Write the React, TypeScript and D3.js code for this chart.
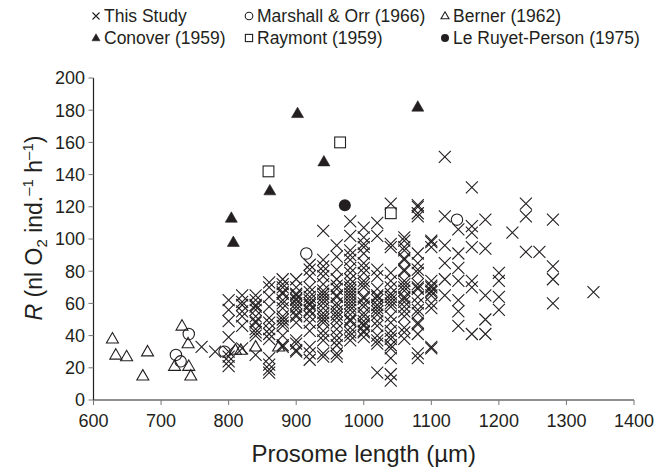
import React from 'react';
import * as d3 from 'd3';

// ---- data ----
// This Study: prosome length columns (µm) with their respiration values
const thisStudyColumns: [number, number[]][] = [
  [760, [33]],
  [780, [30]],
  [800, [62, 56, 49, 39, 30, 27, 24, 21]],
  [820, [65, 61, 59, 55, 52, 46, 32]],
  [840, [65, 62, 59, 58, 56, 52, 49, 48, 44, 42, 40, 28]],
  [860, [73, 70, 64, 58, 51, 48, 44, 41, 38, 26, 22, 19, 17]],
  [880, [75, 72, 70, 67, 66, 62, 60, 57, 52, 50, 48, 46, 40, 34, 33]],
  [900, [75, 70, 66, 65, 63, 62, 60, 58, 56, 53, 52, 48, 37, 35, 31, 30]],
  [920, [84, 81, 77, 70, 67, 64, 62, 60, 59, 56, 55, 52, 48, 43, 33, 29, 25]],
  [940, [105, 87, 83, 80, 77, 72, 68, 66, 64, 62, 60, 57, 54, 52, 50, 48, 43, 40, 37, 29, 27]],
  [960, [96, 89, 81, 75, 71, 69, 65, 64, 60, 58, 55, 53, 51, 48, 44, 40, 37, 34, 29, 27]],
  [980, [111, 102, 93, 90, 87, 82, 79, 75, 72, 70, 68, 66, 64, 62, 60, 58, 56, 53, 50, 49, 45, 42, 40, 37]],
  [1000, [107, 101, 97, 95, 91, 85, 82, 79, 74, 72, 70, 64, 63, 60, 58, 54, 52, 49, 47, 46, 43, 42, 39]],
  [1020, [110, 102, 81, 77, 69, 65, 64, 62, 59, 57, 55, 53, 49, 46, 40, 37, 35, 17]],
  [1040, [122, 97, 95, 79, 74, 70, 66, 64, 62, 60, 58, 52, 48, 43, 40, 38, 34, 32, 26, 16, 12]],
  [1060, [101, 99, 95, 93, 88, 87, 81, 80, 74, 72, 70, 68, 64, 63, 61, 58, 55, 52, 45, 42, 38]],
  [1080, [121, 120, 116, 114, 91, 85, 81, 79, 72, 70, 69, 64, 60, 56, 54, 48, 47, 41, 29, 26]],
  [1100, [99, 98, 95, 74, 71, 70, 68, 67, 65, 60, 57, 33, 32]],
  [1120, [151, 114, 96, 85, 75, 65]],
  [1140, [106, 91, 82, 74, 62, 55, 46]],
  [1160, [132, 108, 104, 95, 74, 70, 41]],
  [1180, [112, 94, 65, 50, 41]],
  [1200, [79, 74, 64, 56]],
  [1220, [104]],
  [1240, [122, 114, 92]],
  [1260, [92]],
  [1280, [112, 83, 75, 60]],
  [1340, [67]],
];

const marshallOrr: [number, number][] = [
  [722, 28], [729, 24], [741, 41], [794, 30], [915, 91], [1138, 112],
];

const berner: [number, number][] = [
  [628, 38], [633, 28], [649, 27], [673, 15], [680, 30], [720, 21], [731, 46],
  [740, 35], [741, 21], [744, 15], [810, 31], [818, 31], [840, 33], [874, 33],
];

const conover: [number, number][] = [
  [804, 113], [807, 98], [861, 130], [902, 178], [941, 148], [1080, 182],
];

const raymont: [number, number][] = [[859, 142], [965, 160], [1040, 116]];

const leRuyetPerson: [number, number][] = [[972, 121]];

const xTicks = [600, 700, 800, 900, 1000, 1100, 1200, 1300, 1400];
const yTicks = [0, 20, 40, 60, 80, 100, 120, 140, 160, 180, 200];

const legendItems = [
  { label: 'This Study', kind: 'x' },
  { label: 'Marshall & Orr (1966)', kind: 'circleOpen' },
  { label: 'Berner (1962)', kind: 'triOpen' },
  { label: 'Conover (1959)', kind: 'triFilled' },
  { label: 'Raymont (1959)', kind: 'square' },
  { label: 'Le Ruyet-Person (1975)', kind: 'circleFilled' },
];

const INK = '#231f20';
const FONT = '"Liberation Sans", Arial, Helvetica, sans-serif';

function Marker({ kind, cx, cy, s }: { kind: string; cx: number; cy: number; s: number }) {
  const h = s / 2;
  switch (kind) {
    case 'x':
      return (
        <path
          d={`M${cx - h},${cy - h}L${cx + h},${cy + h}M${cx - h},${cy + h}L${cx + h},${cy - h}`}
          stroke={INK}
          strokeWidth={1.1}
          fill="none"
        />
      );
    case 'circleOpen':
      return <circle cx={cx} cy={cy} r={h * 0.95} fill="none" stroke={INK} strokeWidth={1.1} />;
    case 'circleFilled':
      return <circle cx={cx} cy={cy} r={h} fill={INK} />;
    case 'square':
      return (
        <rect x={cx - h * 0.9} y={cy - h * 0.9} width={s * 0.9} height={s * 0.9} fill="none" stroke={INK} strokeWidth={1.1} />
      );
    case 'triOpen':
    case 'triFilled': {
      const th = s * 0.866;
      const d = `M${cx},${cy - th * 0.6}L${cx + h},${cy + th * 0.4}L${cx - h},${cy + th * 0.4}Z`;
      return kind === 'triOpen' ? (
        <path d={d} fill="none" stroke={INK} strokeWidth={1.1} />
      ) : (
        <path d={d} fill={INK} stroke={INK} strokeWidth={0.6} />
      );
    }
    default:
      return null;
  }
}

export default function App() {
  const W = 667;
  const H = 471;
  const x = d3.scaleLinear().domain([600, 1400]).range([93.5, 634]);
  const y = d3.scaleLinear().domain([0, 200]).range([400, 78]);

  const thisStudy: [number, number][] = thisStudyColumns.flatMap(([px, ys]) =>
    ys.map((v) => [px, v] as [number, number])
  );

  const MS = 12;

  const legendCols = [92, 245, 441];
  const legendRows = [16, 38];

  return (
    <svg
      width={W}
      height={H}
      viewBox={`0 0 ${W} ${H}`}
      style={{ position: 'absolute', left: 0, top: 0, background: '#fff' }}
      fontFamily={FONT}
    >
      <rect width={W} height={H} fill="#fff" />

      {/* legend */}
      {legendItems.map((it, i) => {
        const col = i % 3;
        const row = Math.floor(i / 3);
        const lx = legendCols[col];
        const ly = legendRows[row];
        return (
          <g key={it.label}>
            <Marker kind={it.kind} cx={lx + 4} cy={ly} s={it.kind === 'x' ? 7 : 8} />
            <text x={lx + 12} y={ly + 6.2} fontSize={17.5} fill={INK}>
              {it.label}
            </text>
          </g>
        );
      })}

      {/* axes */}
      <line x1={x(600)} x2={x(1400)} y1={y(0)} y2={y(0)} stroke={INK} strokeWidth={1.2} />
      <line x1={x(600)} x2={x(600)} y1={y(0)} y2={y(200)} stroke={INK} strokeWidth={1.2} />
      {xTicks.map((t) => (
        <g key={'xt' + t}>
          <line x1={x(t)} x2={x(t)} y1={y(0)} y2={y(0) + 5} stroke="#777" strokeWidth={1} />
          <text x={x(t)} y={y(0) + 26.5} textAnchor="middle" fontSize={18} fill={INK}>
            {t}
          </text>
        </g>
      ))}
      {yTicks.map((t) => (
        <g key={'yt' + t}>
          <line x1={x(600) - 5} x2={x(600)} y1={y(t)} y2={y(t)} stroke="#777" strokeWidth={1} />
          <text x={x(600) - 8.5} y={y(t) + 6.3} textAnchor="end" fontSize={18} fill={INK}>
            {t}
          </text>
        </g>
      ))}

      {/* axis titles */}
      <text x={(x(600) + x(1400)) / 2} y={462} textAnchor="middle" fontSize={24} fill={INK}>
        Prosome length (µm)
      </text>
      <text transform={`translate(42,228) rotate(-90)`} textAnchor="middle" fontSize={23} fill={INK}>
        <tspan fontStyle="italic">R</tspan>
        <tspan> (nl O</tspan>
        <tspan fontSize={15} dy={5}>2</tspan>
        <tspan dy={-5}> ind.</tspan>
        <tspan fontSize={15} dy={-9}>–1</tspan>
        <tspan dy={9}> h</tspan>
        <tspan fontSize={15} dy={-9}>–1</tspan>
        <tspan dy={9}>)</tspan>
      </text>

      {/* data */}
      <g>
        {thisStudy.map(([a, b], i) => (
          <Marker key={'ts' + i} kind="x" cx={x(a)} cy={y(b)} s={MS} />
        ))}
        {berner.map(([a, b], i) => (
          <Marker key={'be' + i} kind="triOpen" cx={x(a)} cy={y(b)} s={MS} />
        ))}
        {marshallOrr.map(([a, b], i) => (
          <Marker key={'mo' + i} kind="circleOpen" cx={x(a)} cy={y(b)} s={MS} />
        ))}
        {raymont.map(([a, b], i) => (
          <Marker key={'ra' + i} kind="square" cx={x(a)} cy={y(b)} s={MS} />
        ))}
        {conover.map(([a, b], i) => (
          <Marker key={'co' + i} kind="triFilled" cx={x(a)} cy={y(b)} s={MS} />
        ))}
        {leRuyetPerson.map(([a, b], i) => (
          <Marker key={'lr' + i} kind="circleFilled" cx={x(a)} cy={y(b)} s={MS} />
        ))}
      </g>
    </svg>
  );
}
